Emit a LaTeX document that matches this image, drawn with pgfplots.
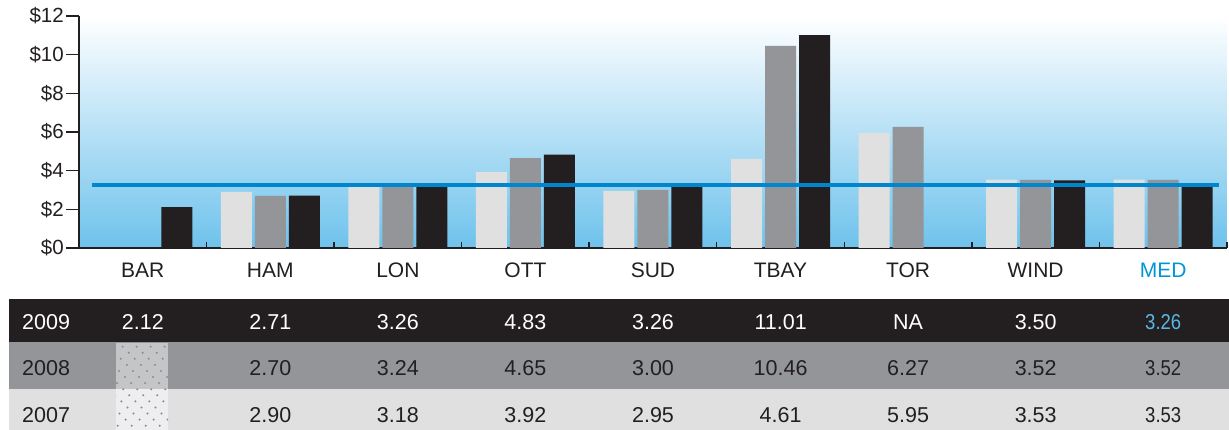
\documentclass[border=0pt]{standalone}
\usepackage{pgfplots}
\pgfplotsset{compat=1.18}
\usepackage{fontspec}
\setmainfont{Liberation Sans}
\definecolor{cA}{RGB}{224,224,225}
\definecolor{cB}{RGB}{147,149,152}
\definecolor{cC}{RGB}{35,31,32}
\definecolor{medline}{RGB}{0,134,205}
\definecolor{medtext}{RGB}{0,150,214}
\definecolor{medval}{RGB}{90,182,228}
\definecolor{bgbot}{RGB}{110,194,236}
\definecolor{hatchA}{RGB}{196,197,199}
\definecolor{hatchB}{RGB}{238,238,240}
\definecolor{hdot}{RGB}{140,140,142}
\begin{document}
\begin{tikzpicture}[x=1pt,y=1pt]
\useasboundingbox (0,0) rectangle (1229,430);
\begin{axis}[
  at={(79pt,182pt)}, anchor=south west,
  width=1148pt, height=232pt, scale only axis,
  xmin=-0.5, xmax=8.5, ymin=0, ymax=12,
  enlargelimits=false,
  axis x line*=bottom, axis y line*=left,
  axis line style={color=cC, line width=1.5pt},
  axis background/.style={top color=white, bottom color=bgbot},
  ybar=3pt, bar width=31pt,
  tick align=inside,
  xtick={0,...,8},
  xticklabels={BAR,HAM,LON,OTT,SUD,TBAY,TOR,WIND,\textcolor{medtext}{MED}},
  major x tick style={draw=none},
  minor xtick={0.5,1.5,...,8.5},
  minor tick length=6pt,
  minor x tick style={cC, line width=1.5pt},
  ytick={0,2,...,12},
  yticklabels={\$0,\$2,\$4,\$6,\$8,\$10,\$12},
  major tick length=13pt,
  y tick style={cC, line width=1.5pt, xshift=-13pt},
  yticklabel style={font=\fontsize{20.5}{24}\selectfont, text=cC, inner sep=0pt, anchor=east, xshift=-15pt},
  xticklabel style={font=\fontsize{21}{24}\selectfont, text=cC, inner sep=0pt, anchor=base, yshift=-30pt},
  clip=false,
]
\addplot[fill=cA, draw=none] coordinates {(1,2.90) (2,3.18) (3,3.92) (4,2.95) (5,4.61) (6,5.95) (7,3.53) (8,3.53)};
\addplot[fill=cB, draw=none] coordinates {(1,2.70) (2,3.24) (3,4.65) (4,3.00) (5,10.46) (6,6.27) (7,3.52) (8,3.52)};
\addplot[fill=cC, draw=none] coordinates {(0,2.12) (1,2.71) (2,3.26) (3,4.83) (4,3.26) (5,11.01) (7,3.50) (8,3.26)};
\addplot[sharp plot, mark=none, medline, line width=4pt, forget plot] coordinates {(-0.4,3.26) (8.44,3.26)};
\end{axis}
% table
\fill[cC] (9,88) rectangle (1229,131);
\fill[cB] (9,41) rectangle (1229,88);
\fill[cA] (9,0) rectangle (1229,41);
\fill[hatchA] (116,41) rectangle (168,87);
\fill[hatchB] (116,0) rectangle (168,41);
\begin{scope}
\clip (116,0) rectangle (168,87);
\foreach \s in {-84,-70,...,56} {
  \draw[hdot, line width=1.6pt, dash pattern=on 1.6pt off 7pt] (116+\s,90) -- (116+\s+95,-5);
}
\end{scope}
\tikzset{tv/.style={font=\fontsize{21.5}{24}\selectfont, inner sep=0pt, anchor=center}}
\node[tv, text=white, anchor=west] at (22,108) {2009};
\node[tv, text=cC, anchor=west] at (22,62) {2008};
\node[tv, text=cC, anchor=west] at (22,15) {2007};
% 2009
\foreach \x/\v in {142.8/2.12, 270.3/2.71, 397.9/3.26, 525.4/4.83, 653.0/3.26, 780.6/11.01, 908.1/NA, 1035.7/3.50}
  \node[tv, text=white] at (\x,108) {\v};
\node[tv, text=medval] at (1163.2,108) {\scalebox{0.86}[1]{3.26}};
% 2008
\foreach \x/\v in {270.3/2.70, 397.9/3.24, 525.4/4.65, 653.0/3.00, 780.6/10.46, 908.1/6.27, 1035.7/3.52}
  \node[tv, text=cC] at (\x,62) {\v};
\node[tv, text=cC] at (1163.2,62) {\scalebox{0.86}[1]{3.52}};
% 2007
\foreach \x/\v in {270.3/2.90, 397.9/3.18, 525.4/3.92, 653.0/2.95, 780.6/4.61, 908.1/5.95, 1035.7/3.53}
  \node[tv, text=cC] at (\x,15) {\v};
\node[tv, text=cC] at (1163.2,15) {\scalebox{0.86}[1]{3.53}};
\end{tikzpicture}
\end{document}
